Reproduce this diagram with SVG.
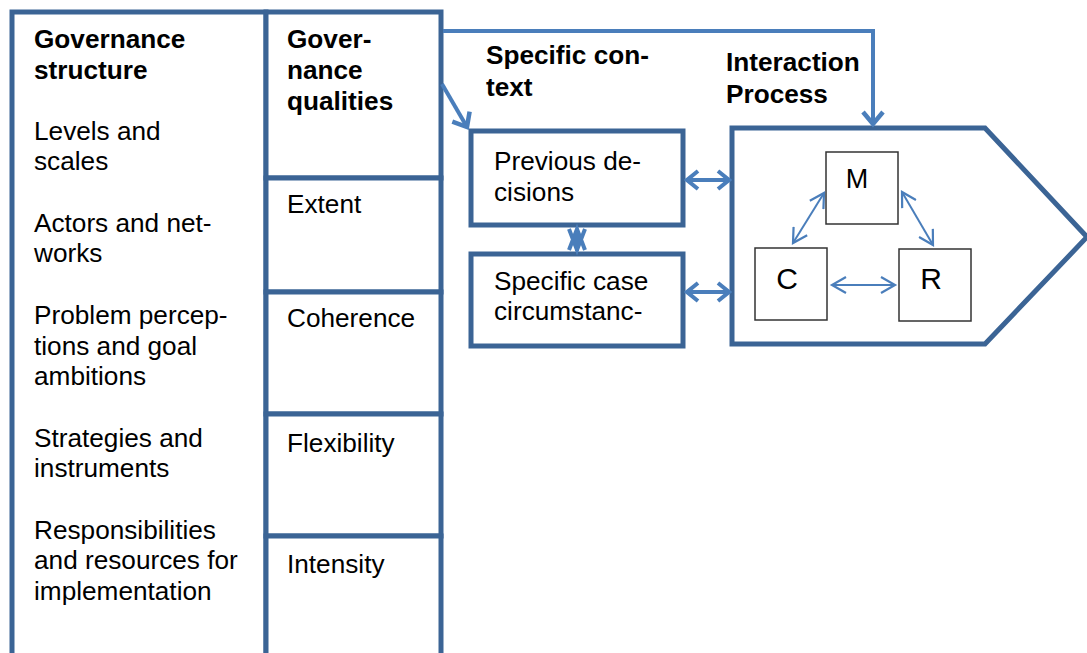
<svg xmlns="http://www.w3.org/2000/svg" width="1087" height="653" viewBox="0 0 1087 653">
<style>
.box{fill:#fff;stroke:#3B6495;stroke-width:5}
.sm{fill:#fff;stroke:#333;stroke-width:1.5}
.t{font-family:"Liberation Sans",Arial,sans-serif;font-size:26.2px;fill:#000}
.b{font-weight:bold}
.con{fill:none;stroke:#4A7EBB}
</style>
<defs>
<marker id="ah" markerWidth="18" markerHeight="18" refX="15" refY="9" orient="auto-start-reverse" markerUnits="userSpaceOnUse" viewBox="0 0 18 18">
<path d="M1,1 L15,9 L1,17" fill="none" stroke="#4A7EBB" stroke-width="2.2"/>
</marker>
<marker id="ahb" markerWidth="20" markerHeight="24" refX="14" refY="12" orient="auto-start-reverse" markerUnits="userSpaceOnUse" viewBox="0 0 20 24">
<path d="M2,2 L14,12 L2,22" fill="none" stroke="#4A7EBB" stroke-width="4.5"/>
</marker>
<marker id="ahd" markerWidth="16" markerHeight="22" refX="13" refY="11" orient="auto-start-reverse" markerUnits="userSpaceOnUse" viewBox="0 0 16 22">
<path d="M2,2 L13,11 L2,20" fill="none" stroke="#4A7EBB" stroke-width="4"/>
</marker>
</defs>
<rect width="1087" height="653" fill="#fff"/>
<g id="governance-structure">
<rect class="box" x="12" y="12" width="254" height="660"/>
<text class="t b" x="34" y="48">Governance</text>
<text class="t b" x="34" y="79">structure</text>
<text class="t" x="34" y="140">Levels and</text>
<text class="t" x="34" y="170">scales</text>
<text class="t" x="34" y="232">Actors and net-</text>
<text class="t" x="34" y="262">works</text>
<text class="t" x="34" y="324">Problem percep-</text>
<text class="t" x="34" y="355">tions and goal</text>
<text class="t" x="34" y="385">ambitions</text>
<text class="t" x="34" y="447">Strategies and</text>
<text class="t" x="34" y="477">instruments</text>
<text class="t" x="34" y="539">Responsibilities</text>
<text class="t" x="34" y="569">and resources for</text>
<text class="t" x="34" y="600">implementation</text>
</g>
<g id="governance-qualities">
<rect class="box" x="266" y="12" width="175" height="166"/>
<text class="t b" x="287" y="48">Gover-</text>
<text class="t b" x="287" y="79">nance</text>
<text class="t b" x="287" y="110">qualities</text>
</g>
<g id="extent">
<rect class="box" x="266" y="178" width="175" height="114"/>
<text class="t" x="287" y="213">Extent</text>
</g>
<g id="coherence">
<rect class="box" x="266" y="292" width="175" height="122"/>
<text class="t" x="287" y="327">Coherence</text>
</g>
<g id="flexibility">
<rect class="box" x="266" y="414" width="175" height="122"/>
<text class="t" x="287" y="452">Flexibility</text>
</g>
<g id="intensity">
<rect class="box" x="266" y="536" width="175" height="130"/>
<text class="t" x="287" y="573">Intensity</text>
</g>
<g id="specific-context">
<text class="t b" x="486" y="64">Specific con-</text>
<text class="t b" x="486" y="96">text</text>
</g>
<g id="previous-decisions">
<rect class="box" x="471" y="131" width="212" height="94"/>
<text class="t" x="494" y="170">Previous de-</text>
<text class="t" x="494" y="201">cisions</text>
</g>
<g id="specific-case">
<rect class="box" x="471" y="254" width="212" height="92"/>
<text class="t" x="494" y="290">Specific case</text>
<text class="t" x="494" y="320">circumstanc-</text>
</g>
<g id="interaction-process">
<text class="t b" x="726" y="71">Interaction</text>
<text class="t b" x="726" y="103">Process</text>
<path class="box" d="M732,128 L985,128 L1087,237 L985,344 L732,344 Z"/>
</g>
<g id="M">
<rect class="sm" x="826" y="152" width="72" height="72"/>
<text class="t" x="857" y="188" text-anchor="middle" style="font-size:27px">M</text>
</g>
<g id="C">
<rect class="sm" x="755" y="248" width="72" height="72"/>
<text class="t" x="787" y="289" text-anchor="middle" style="font-size:30px">C</text>
</g>
<g id="R">
<rect class="sm" x="899" y="249" width="72" height="72"/>
<text class="t" x="931" y="289" text-anchor="middle" style="font-size:30px">R</text>
</g>
<g id="connectors">
<path class="con" stroke-width="4" d="M443,31 L873,31 L873,124" marker-end="url(#ahb)"/>
<path class="con" stroke-width="4" d="M442,84 L467,127" marker-end="url(#ahb)"/>
<path class="con" stroke-width="4" d="M687,180 L729,180" marker-start="url(#ahd)" marker-end="url(#ahd)"/>
<path class="con" stroke-width="4" d="M687,292 L729,292" marker-start="url(#ahd)" marker-end="url(#ahd)"/>
<path class="con" stroke-width="4" d="M577,229 L577,251 M569,250 L577,229 L585,250 M569,229 L577,250 L585,229"/>
<path class="con" stroke-width="2" d="M824,193 L793,243" marker-start="url(#ah)" marker-end="url(#ah)"/>
<path class="con" stroke-width="2" d="M902,192 L933,245" marker-start="url(#ah)" marker-end="url(#ah)"/>
<path class="con" stroke-width="2" d="M832,285 L895,285" marker-start="url(#ah)" marker-end="url(#ah)"/>
</g>
</svg>
